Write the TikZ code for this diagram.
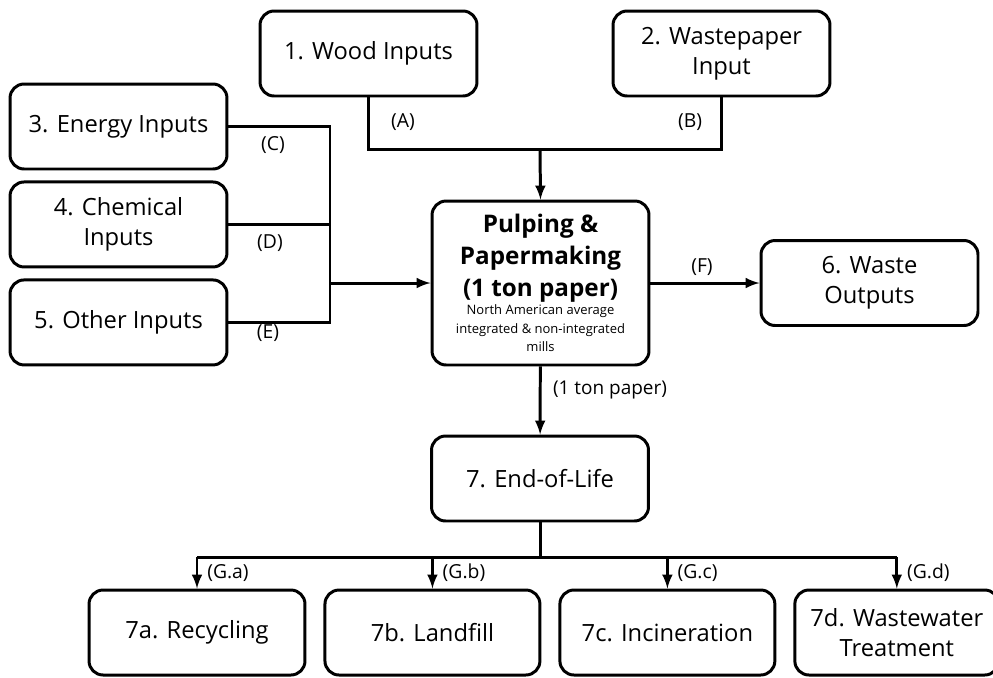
\documentclass[tikz,border=0pt]{standalone}
\usepackage{fontspec}
\setmainfont{Open Sans}
\usetikzlibrary{arrows,positioning}

\newcommand\millhead[1]{{\bfseries\fontsize{13.8}{16}\selectfont #1}}
\newcommand\millnote[1]{{\fontsize{7.4}{8.4}\selectfont #1}}

\begin{document}
\begin{tikzpicture}[x=0.02cm, y=-0.02cm, line width=1.7pt, >=latex,
  box/.style={draw, rounded corners=8pt, align=center, inner sep=2pt,
    minimum width=4.34cm, minimum height=1.7cm, font=\fontsize{13.5}{17}\selectfont},
  flow/.style={font=\fontsize{11}{13}\selectfont, inner sep=1pt}]
   \useasboundingbox (0,0) rectangle (993,677);

   % inputs
   \node[box] (wood)   at (368.5,53.5)  {1. Wood Inputs};
   \node[box] (paper)  at (721.5,53.5)  {2. Wastepaper\\Input};
   \node[box] (energy) at (118.5,126.5) {3. Energy Inputs};
   \node[box] (chem)   [below=0.2cm of energy] {4. Chemical\\Inputs};
   \node[box] (other)  [below=0.2cm of chem]   {5. Other Inputs};

   % mill
   \node[box, minimum height=3.28cm, text depth=0pt] (pulp) at (540.5,283)
     {\millhead{Pulping \&}\\[1.2pt]\millhead{Papermaking}\\[1.2pt]\millhead{(1 ton paper)}\\[-6.7pt]
      \millnote{North American average}\\[-6.6pt]\millnote{integrated \& non-integrated}\\[-6.6pt]\millnote{mills}};
   \node[box] (wasteout) at (869.5,283) {6. Waste\\Outputs};

   % end of life
   \node[box] (eol)    at (540,478.5)  {7. End-of-Life};
   \node[box, minimum width=4.32cm] (recyc) at (197,632.5) {7a. Recycling};
   \node[box, minimum width=4.3cm]  (landf) [right=0.34cm of recyc] {7b. Landfill};
   \node[box, minimum width=4.3cm]  (incin) [right=0.34cm of landf] {7c. Incineration};
   \node[box, minimum width=4.08cm] (water) [right=0.34cm of incin] {7d. Wastewater\\Treatment};

   \coordinate (jtop)  at (540,149);
   \coordinate (jleft) at (330,283);
   \coordinate (jbus)  at (540,557);

   \draw (wood.south) |- (jtop) -| (paper.south);
   \draw (energy.east) -| (jleft |- other.east) -- (other.east);
   \draw (chem.east) -- (jleft |- chem.east);
   \draw (eol.south) -- (jbus);
   \draw (recyc.north |- jbus) -- (water.north |- jbus);

   \path[->]
   (jtop)  edge (pulp.north)
   (jleft) edge (pulp.west)
   (pulp)  edge (wasteout)
           edge (eol)
   (recyc.north |- jbus) edge (recyc.north)
   (landf.north |- jbus) edge (landf.north)
   (incin.north |- jbus) edge (incin.north)
   (water.north |- jbus) edge (water.north);

   % flow labels
   \node[flow] (la) at (403,122) {(A)};
   \node[flow] (lb) at (690,122) {(B)};
   \node[flow] (lc) at (273,145) {(C)};
   \node[flow] (ld) at (270,243) {(D)};
   \node[flow] (le) at (268,333) {(E)};
   \node[flow] (lf) at (702,267) {(F)};
   \node[flow, font=\fontsize{10.8}{12}\selectfont] (lton) at (610,390) {(1 ton paper)};
   \node[flow, anchor=west] (lga) at ([xshift=4pt, yshift=0.32cm]recyc.north) {(G.a)};
   \node[flow, anchor=west] (lgb) at ([xshift=4pt, yshift=0.32cm]landf.north) {(G.b)};
   \node[flow, anchor=west] (lgc) at ([xshift=4pt, yshift=0.32cm]incin.north) {(G.c)};
   \node[flow, anchor=west] (lgd) at ([xshift=4pt, yshift=0.32cm]water.north) {(G.d)};
\end{tikzpicture}
\end{document}
